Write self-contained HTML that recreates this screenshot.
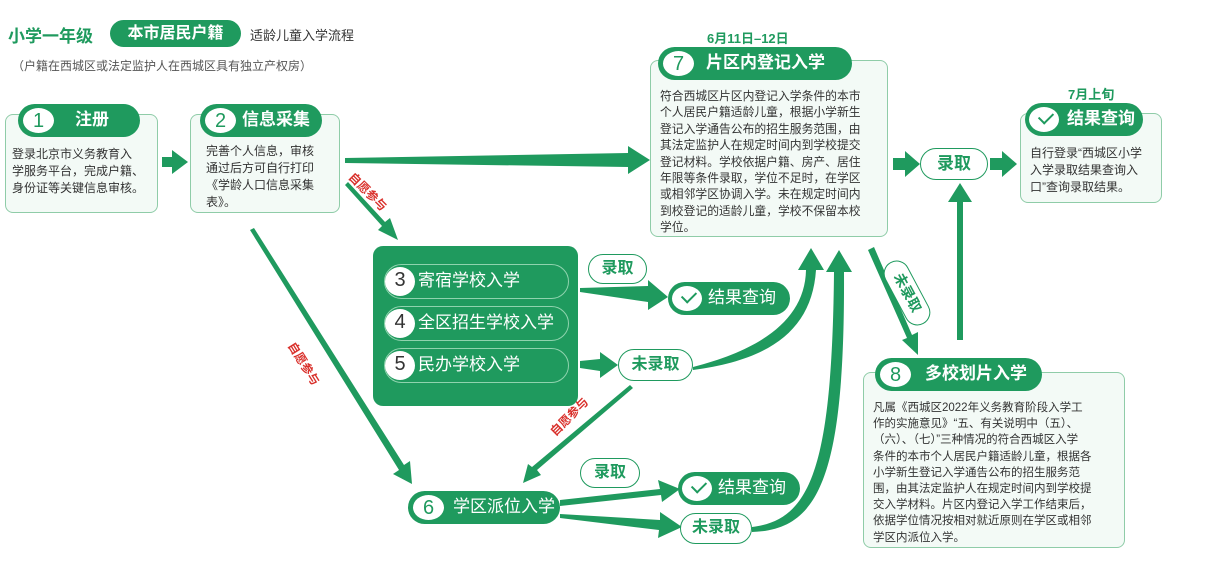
<!DOCTYPE html>
<html><head><meta charset="utf-8"><style>
*{margin:0;padding:0;box-sizing:border-box}
body{width:1208px;height:571px;background:#fff;position:relative;overflow:hidden;font-family:"Liberation Sans","Noto Sans CJK SC",sans-serif;color:#333}
.a{position:absolute}
.box{position:absolute;border:1.5px solid #8fcca8;border-radius:8px;background:#f3faf6}
.txt{position:absolute;font-size:12px;line-height:17px;color:#333;white-space:nowrap}
.hd{position:absolute;background:#1f9a5e;border-radius:18px;color:#fff;font-size:17px;font-weight:bold;line-height:32px;height:33px;white-space:nowrap}
.num{position:absolute;left:3px;top:2px;width:35px;height:29px;border-radius:50%;background:#fff;border:2px solid #1f9a5e;color:#1f9a5e;font-size:20px;text-align:center;line-height:26px;font-weight:normal}
.op{position:absolute;border:1.5px solid #1f9a5e;background:#fff;border-radius:18px;color:#1f9a5e;font-size:16px;font-weight:bold;text-align:center}
.red{position:absolute;color:#d9302b;font-size:12px;font-weight:bold;white-space:nowrap}
.chk{position:absolute;left:2px;top:2px;width:34px;height:29px;border-radius:50%;background:#fff;border:2px solid #1f9a5e}
.chk:after{content:"";position:absolute;left:10px;top:5px;width:12px;height:7px;border-left:2px solid #1f9a5e;border-bottom:2px solid #1f9a5e;transform:rotate(-45deg)}
</style></head><body>
<div class="a" style="left:8px;top:22px;font-size:17px;font-weight:bold;color:#1f9a5e">小学一年级</div>
<div class="a" style="left:110px;top:20px;width:131px;height:27px;border-radius:14px;background:#1f9a5e;color:#fff;font-size:16px;font-weight:bold;text-align:center;line-height:27px">本市居民户籍</div>
<div class="a" style="left:250px;top:25px;font-size:13px;color:#333">适龄儿童入学流程</div>
<div class="a" style="left:12px;top:57px;font-size:12px;color:#555">（户籍在西城区或法定监护人在西城区具有独立产权房）</div>

<svg class="a" style="left:0;top:0" width="1208" height="571">
<g fill="#1f9a5e">
<polygon points="162,157 172,157 172,150 188,162 172,174 172,167 162,167"/>
<polygon points="345,158 628,153 628,146 650,160 628,174 628,167 345,163"/>
<polygon points="893,158 905,158 905,151 920,164 905,177 905,170 893,170"/>
<polygon points="990,158 1002,158 1002,151 1017,164 1002,177 1002,170 990,170"/>
<polygon points="580,288 648,286 648,280 668,297 648,310 648,302 580,292"/>
<polygon points="580,361 600,359 600,352 618,365 600,378 600,371 580,368"/>
<polygon points="560,500 660,489 658,480 680,489 662,502 661,495 560,506"/>
<polygon points="560,514 660,520 660,512 682,527 658,538 659,530 560,518"/>
<polygon points="957,340 963,340 963,202 972,202 960,183 948,202 957,202"/>
<polygon points="868,250 874,247 912,335 918,332 918,355 902,340 907,338"/>
<polygon points="250,230 254,228 404,465 410,461 412,484 393,474 399,470"/>
<polygon points="345,185 348,182 385,222 390,218 398,240 378,230 382,226"/>
<polygon points="630,385 633,388 537,470 541,475 523,483 528,464 532,467"/>
<path d="M693,367 C760,350 805,320 806,270 L798,270 L811,248 L824,270 L816,270 C812,330 770,360 693,370z"/>
<path d="M752,527 C810,520 832,470 834,272 L826,272 L839,250 L852,272 L844,272 C845,480 818,530 752,532z"/>
</g>
</svg>

<div class="red" style="left:344px;top:183px;transform:rotate(45deg)">自愿参与</div>
<div class="red" style="left:280px;top:355px;transform:rotate(58deg)">自愿参与</div>
<div class="red" style="left:545px;top:408px;transform:rotate(-45deg)">自愿参与</div>
<div class="op" style="left:872px;top:280px;width:70px;height:26px;font-size:14px;line-height:22px;transform:rotate(62deg)">未录取</div>

<div class="box" style="left:5px;top:114px;width:153px;height:99px"></div>
<div class="hd" style="left:18px;top:104px;width:122px"><div class="num">1</div><span style="position:absolute;left:57px">注册</span></div>
<div class="txt" style="left:12px;top:146px">登录北京市义务教育入<br>学服务平台，完成户籍、<br>身份证等关键信息审核。</div>
<div class="box" style="left:190px;top:114px;width:150px;height:99px"></div>
<div class="hd" style="left:200px;top:104px;width:122px"><div class="num">2</div><span style="position:absolute;left:42px">信息采集</span></div>
<div class="txt" style="left:206px;top:143px">完善个人信息，审核<br>通过后方可自行打印<br>《学龄人口信息采集<br>表》。</div>
<div class="a" style="left:707px;top:28px;font-size:13px;font-weight:bold;color:#1f9a5e">6月11日–12日</div>
<div class="box" style="left:650px;top:60px;width:238px;height:177px"></div>
<div class="hd" style="left:658px;top:47px;width:194px"><div class="num">7</div><span style="position:absolute;left:48px">片区内登记入学</span></div>
<div class="txt" style="left:660px;top:88px;font-size:11.8px;line-height:16.4px">符合西城区片区内登记入学条件的本市<br>个人居民户籍适龄儿童，根据小学新生<br>登记入学通告公布的招生服务范围，由<br>其法定监护人在规定时间内到学校提交<br>登记材料。学校依据户籍、房产、居住<br>年限等条件录取，学位不足时，在学区<br>或相邻学区协调入学。未在规定时间内<br>到校登记的适龄儿童，学校不保留本校<br>学位。</div>
<div class="op" style="left:920px;top:148px;width:68px;height:32px;font-size:17px;line-height:29px">录取</div>
<div class="a" style="left:1068px;top:84px;font-size:13px;font-weight:bold;color:#1f9a5e">7月上旬</div>
<div class="box" style="left:1020px;top:113px;width:142px;height:90px"></div>
<div class="hd" style="left:1025px;top:103px;width:118px"><div class="chk"></div><span style="position:absolute;left:42px">结果查询</span></div>
<div class="txt" style="left:1030px;top:145px">自行登录“西城区小学<br>入学录取结果查询入<br>口”查询录取结果。</div>
<div class="a" style="left:373px;top:246px;width:205px;height:160px;background:#1f9a5e;border-radius:10px"></div>
<div class="a" style="left:384px;top:264px;width:185px;height:35px;border:1px solid #8fd3ae;border-radius:18px"></div>
<div class="a" style="left:384px;top:306px;width:185px;height:35px;border:1px solid #8fd3ae;border-radius:18px"></div>
<div class="a" style="left:384px;top:348px;width:185px;height:35px;border:1px solid #8fd3ae;border-radius:18px"></div>
<div class="hd" style="left:382px;top:265px;width:180px;background:none"><div class="num" style="width:30px;border:none;color:#333">3</div><span style="position:absolute;left:36px;font-weight:normal">寄宿学校入学</span></div>
<div class="hd" style="left:382px;top:307px;width:190px;background:none"><div class="num" style="width:30px;border:none;color:#333">4</div><span style="position:absolute;left:36px;font-weight:normal">全区招生学校入学</span></div>
<div class="hd" style="left:382px;top:349px;width:180px;background:none"><div class="num" style="width:30px;border:none;color:#333">5</div><span style="position:absolute;left:36px;font-weight:normal">民办学校入学</span></div>
<div class="op" style="left:588px;top:254px;width:59px;height:30px;line-height:27px">录取</div>
<div class="hd" style="left:668px;top:282px;width:122px"><div class="chk"></div><span style="position:absolute;left:40px;font-weight:normal">结果查询</span></div>
<div class="op" style="left:618px;top:349px;width:75px;height:32px;line-height:29px">未录取</div>
<div class="hd" style="left:408px;top:491px;width:152px"><div class="num">6</div><span style="position:absolute;left:45px;font-weight:normal">学区派位入学</span></div>
<div class="op" style="left:580px;top:458px;width:60px;height:30px;line-height:27px">录取</div>
<div class="hd" style="left:678px;top:472px;width:122px"><div class="chk"></div><span style="position:absolute;left:40px;font-weight:normal">结果查询</span></div>
<div class="op" style="left:680px;top:513px;width:72px;height:31px;line-height:28px">未录取</div>
<div class="box" style="left:863px;top:372px;width:262px;height:176px"></div>
<div class="hd" style="left:875px;top:358px;width:167px"><div class="num">8</div><span style="position:absolute;left:50px">多校划片入学</span></div>
<div class="txt" style="left:873px;top:400px;font-size:11.5px;line-height:16.2px">凡属《西城区2022年义务教育阶段入学工<br>作的实施意见》“五、有关说明中（五）、<br>（六）、（七）”三种情况的符合西城区入学<br>条件的本市个人居民户籍适龄儿童，根据各<br>小学新生登记入学通告公布的招生服务范<br>围，由其法定监护人在规定时间内到学校提<br>交入学材料。片区内登记入学工作结束后，<br>依据学位情况按相对就近原则在学区或相邻<br>学区内派位入学。</div>
</body></html>
